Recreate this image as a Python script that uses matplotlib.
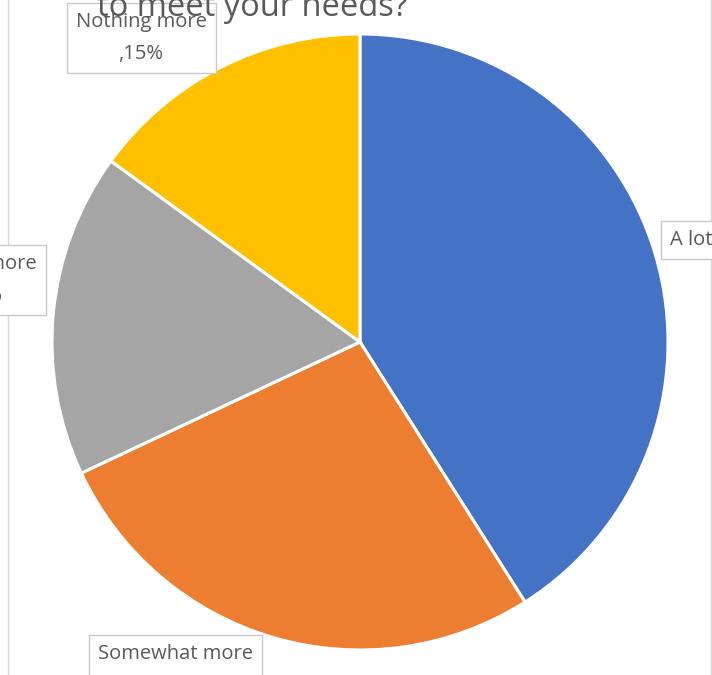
import matplotlib
matplotlib.use("Agg")
import matplotlib.pyplot as plt

plt.rcParams['font.family'] = ['Open Sans', 'DejaVu Sans']

categories = ["A lot more", "Somewhat more", "A little more", "Nothing more"]
shares = [41, 27, 17, 15]
colors = ["#4472C4", "#ED7D31", "#A5A5A5", "#FFC000"]
title = "How much more support would you need\nto meet your needs?"

W, H = 712, 675
fig = plt.figure(figsize=(W / 100, H / 100), dpi=100)
ax = fig.add_axes([0, 0, 1, 1])

ax.pie(shares, colors=colors, startangle=90, counterclock=False,
       center=(360, 333), radius=308,
       wedgeprops=dict(edgecolor="white", linewidth=2.2))

ax.set_xlim(0, W)
ax.set_ylim(0, H)
ax.set_aspect("equal")
ax.axis("off")

# chart border (only the sides fall inside the crop)
for x in (8, 711):
    ax.plot([x, x], [0, H], color="#d9d9d9", lw=1, zorder=1)

grey = "#595959"
box = dict(boxstyle="square,pad=0.45", fc="white", ec="#c9c9c9", lw=1)
lab = lambda i: f"{categories[i]}\n,{shares[i]}%"

ax.text(670, 435, f"{categories[0]} ,{shares[0]}%", ha="left", va="center",
        fontsize=14.5, color=grey, bbox=box, zorder=5)
ax.text(98, 5, lab(1), ha="left", va="center", ma="center",
        fontsize=14.5, color=grey, bbox=box, zorder=5, linespacing=1.75)
ax.text(37, 395, lab(2), ha="right", va="center", ma="center",
        fontsize=14.5, color=grey, bbox=box, zorder=5, linespacing=1.75)
ax.text(141, 637, lab(3), ha="center", va="center", ma="center",
        fontsize=14.5, color=grey, bbox=box, zorder=5, linespacing=1.75)

ax.text(252, 659, title, ha="center", va="baseline", ma="center",
        fontsize=23.5, color=grey, zorder=6)

fig.savefig("out.png", dpi=100)
